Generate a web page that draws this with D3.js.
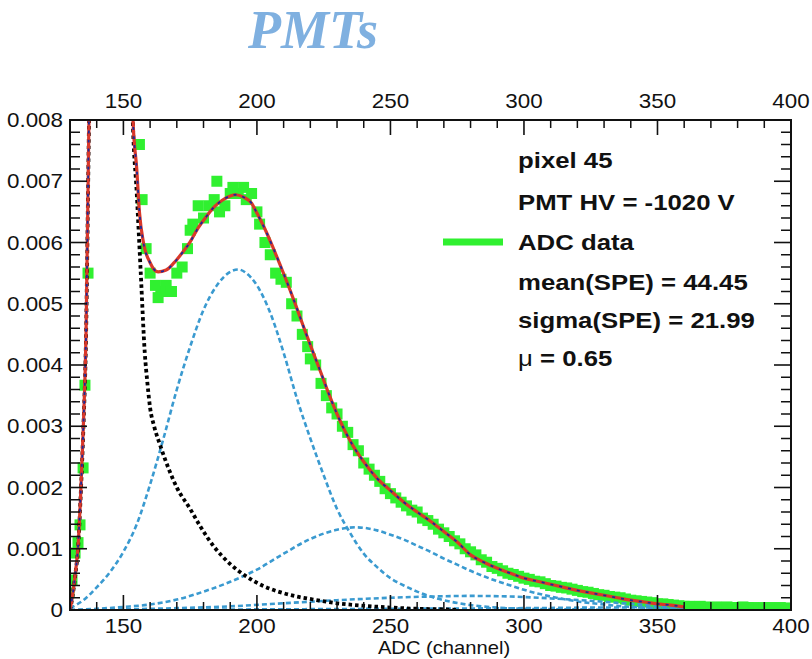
<!DOCTYPE html>
<html><head><meta charset="utf-8">
<script src="https://cdn.jsdelivr.net/npm/d3@7/dist/d3.min.js"></script>
<style>body{margin:0;background:#fff}svg{display:block}</style>
</head><body>
<svg id="chart" width="812" height="659"></svg>
<script>
// ---------- data ----------
const chartTitle = "PMTs";
const xTickValues = [150, 200, 250, 300, 350, 400];
const yTickValues = [0, 0.001, 0.002, 0.003, 0.004, 0.005, 0.006, 0.007, 0.008];
const yTickLabels = ["0", "0.001", "0.002", "0.003", "0.004", "0.005", "0.006", "0.007", "0.008"];
const xAxisTitle = "ADC (channel)";
const legendLines = ["pixel 45", "PMT HV = -1020 V", "ADC data", "mean(SPE) = 44.45", "sigma(SPE) = 21.99", "μ = 0.65"];

// ADC data (green squares)
const dataADC = [129.6,130.75,131.9,133,133.75,134.9,135.6,136.75,138,140,142,144,146,148,150,152,154,156,157,158.5,160,162,163,164,166,168,170,172,174,175,176,178,180,182,184,185,186,188,190,191,193,195,196,198,200,201,203,205,207,209,211,213,215,217,219,220,222,224,226,228,230,232,234,236,238,240,242,244,246,248,250,252,254,256,258,260,262,264,266,268,270,272,274,276,278,280,282,284,286,288,290,292,294,296,298,300,302,304,306,308,310,312,314,316,318,320,322,324,326,328,330,332,334,336,338,340,342,344,346,348,350,352,354,356,358,360,362,364,366,368,370,372,374,376,378,380,382,384,386,388,390,392,394,396,398,400];
const dataValue = [0.00028,0.00049,0.00093,0.0011,0.00139,0.00232,0.00367,0.0055,0.0092,0.015,0.0185,0.021,0.0215,0.0195,0.016,0.0115,0.0086,0.0076,0.0067,0.0059,0.0055,0.0053,0.0051,0.0052,0.0053,0.0052,0.0055,0.0056,0.0059,0.0062,0.0063,0.0066,0.0064,0.0066,0.0067,0.007,0.0065,0.0066,0.0068,0.0069,0.0068,0.0069,0.0067,0.0068,0.0065,0.0063,0.006,0.0058,0.0055,0.0054,0.00535,0.005,0.0048,0.0045,0.0043,0.0041,0.004,0.0037,0.0035,0.0033,0.0032,0.003,0.0029,0.0027,0.0026,0.0024,0.0023,0.0022,0.0021,0.00198,0.0019,0.00183,0.00176,0.0017,0.00163,0.0016,0.0015,0.00146,0.0014,0.00132,0.00126,0.0012,0.00113,0.00108,0.001,0.00095,0.0009,0.00082,0.00078,0.00071,0.00068,0.00064,0.0006,0.00058,0.00055,0.00052,0.0005,0.00047,0.00046,0.00043,0.0004,0.00039,0.00037,0.00036,0.00034,0.00032,0.0003,0.00029,0.00027,0.00025,0.00024,0.00022,0.00021,0.0002,0.00018,0.00016,0.00015,0.00014,0.00013,0.00012,0.0001,0.0001,0.00009,0.00008,0.00007,0.00006,0.00006,0.00005,0.00006,0.00005,0.00004,0.00005,0.00004,0.00005,0.00004,0.00004,0.00005,0.00004,0.00004,0.00003,0.00004,0.00004,0.00003,0.00004,0.00003,0.00003];

// total fit (red, with navy dashes)
const fitADC = [130,131,132,133,134,135,136,137,138,140,145,150,152,153.6,155,156,157.5,160,163,166,169,172,175,178,181,184,187,190,192,195,198,200,203,206,209,212,215,218,221,224,227,230,233,236,240,245,250,255,260,265,270,275,280,285,290,295,300,305,310,315,320,325,330,335,340,345,350,355,360];
const fitValue = [0,0.00025,0.0006,0.00103,0.0019,0.003,0.0045,0.0077,0.0105,0.016,0.022,0.016,0.011,0.008,0.0072,0.0065,0.006,0.00567,0.00552,0.00555,0.00567,0.00583,0.00601,0.00624,0.00642,0.00658,0.00669,0.00676,0.00678,0.00674,0.00664,0.00648,0.00622,0.00592,0.0056,0.00527,0.00492,0.00456,0.00421,0.00387,0.00352,0.0032,0.00292,0.00268,0.00242,0.00215,0.00195,0.00176,0.0016,0.00145,0.00128,0.00111,0.0009,0.00078,0.00068,0.0006,0.00052,0.00047,0.00042,0.00037,0.00032,0.00028,0.00024,0.0002,0.00016,0.00013,0.0001,0.00008,0.00005];

// pedestal (black dotted)
const pedADC = [130,131,132,133,134,135,136,137,138,140,145,150,152,153.5,155,156.5,158,159,160,161.5,163.7,167,170,175,179,184,190,196,202,208,215,220,230,240,250,260,270,275];
const pedValue = [0,0.00024,0.00058,0.001,0.00187,0.00296,0.00445,0.0076,0.0104,0.0159,0.0219,0.0159,0.011,0.008,0.0068,0.0055,0.0042,0.0037,0.0033,0.003,0.0027,0.0023,0.002,0.00165,0.00135,0.00103,0.00075,0.00055,0.0004,0.0003,0.00022,0.00018,0.00011,0.00007,0.00004,0.00002,0.00001,0];

// 1 p.e. component (blue dashed)
const pe1ADC = [130,135,140,145,150,155,160,165,170,175,180,185,190,193,196,200,205,210,215,220,225,230,235,240,245,250,255,260,265,270,280,290,300,320,340,360];
const pe1Value = [0.00003,0.00016,0.00037,0.00062,0.00095,0.0014,0.00205,0.0028,0.0036,0.0043,0.0049,0.0053,0.00552,0.00556,0.0055,0.0053,0.00485,0.0042,0.00345,0.0028,0.0022,0.00165,0.00125,0.00092,0.0007,0.00052,0.0004,0.0003,0.00022,0.00016,0.00008,0.00004,0.00002,0.00001,0,0];

// 2 p.e. component
const pe2ADC = [130,140,150,160,170,180,190,200,210,220,230,237,245,250,255,260,265,270,275,280,285,290,295,300,310,320,330,340,350,360];
const pe2Value = [0,0.00002,0.00005,0.00009,0.00017,0.0003,0.00046,0.00066,0.00092,0.00116,0.00131,0.00135,0.0013,0.00123,0.00115,0.00105,0.00095,0.00084,0.00074,0.00064,0.00055,0.00047,0.0004,0.00033,0.00022,0.00014,0.00009,0.00005,0.00003,0.00001];

// 3 p.e. component
const pe3ADC = [130,150,170,190,210,230,250,265,280,295,310,325,340,350,360];
const pe3Value = [0,0.00001,0.00003,0.00006,0.00011,0.00016,0.0002,0.00022,0.00023,0.00022,0.00019,0.00015,0.0001,0.00007,0.00005];

// 4 p.e. component
const pe4ADC = [130,200,250,300,330,360];
const pe4Value = [0,0.00001,0.00002,0.00003,0.00004,0.00004];

// ---------- drawing ----------
const svg = d3.select("#chart");
const pLeft = 70, pRight = 791, pTop = 120, pBottom = 610;
const x = d3.scaleLinear().domain([130, 400]).range([pLeft, pRight]);
const y = d3.scaleLinear().domain([0, 0.008]).range([pBottom, pTop]);
const SX = 1.12;
const sans = "'Liberation Sans', Arial, Helvetica, sans-serif";

function stext(g, px, py, str, anchor, size, weight) {
  return g.append("text")
    .attr("transform", `translate(${px},${py}) scale(${SX},1)`)
    .attr("text-anchor", anchor)
    .attr("font-family", sans)
    .attr("font-size", size)
    .attr("font-weight", weight || "normal")
    .attr("fill", "#111")
    .text(str);
}

// title
svg.append("text")
  .attr("x", 248).attr("y", 48)
  .attr("font-family", "'Liberation Serif', 'Times New Roman', serif")
  .attr("font-style", "italic").attr("font-weight", "bold")
  .attr("font-size", 54).attr("fill", "#7fb0e0")
  .text(chartTitle);

svg.append("defs").append("clipPath").attr("id", "plotclip")
  .append("rect").attr("x", pLeft).attr("y", pTop).attr("width", pRight - pLeft).attr("height", pBottom - pTop);

const plot = svg.append("g").attr("clip-path", "url(#plotclip)");

// data squares
const pts = dataADC.map((d, i) => [d, dataValue[i]]);
const sq = 11;
plot.append("g").selectAll("rect").data(pts).join("rect")
  .attr("x", d => x(d[0]) - sq / 2).attr("y", d => y(d[1]) - sq / 2)
  .attr("width", sq).attr("height", sq)
  .attr("fill", "#30f030");

const line = d3.line().x(d => x(d[0])).y(d => y(d[1])).curve(d3.curveMonotoneX);
function series(xs, vs) { return xs.map((d, i) => [d, vs[i]]); }

const blue = "#3a9ad0";
[[pe4ADC, pe4Value], [pe3ADC, pe3Value], [pe2ADC, pe2Value], [pe1ADC, pe1Value]].forEach(([a, v]) => {
  plot.append("path").datum(series(a, v)).attr("d", line)
    .attr("fill", "none").attr("stroke", blue).attr("stroke-width", 2.6)
    .attr("stroke-dasharray", "5,3");
});

plot.append("path").datum(series(pedADC, pedValue)).attr("d", line)
  .attr("fill", "none").attr("stroke", "#000").attr("stroke-width", 3.8)
  .attr("stroke-dasharray", "3.5,3");

plot.append("path").datum(series(fitADC, fitValue)).attr("d", line)
  .attr("fill", "none").attr("stroke", "#d9382a").attr("stroke-width", 3.2);
plot.append("path").datum(series(fitADC, fitValue)).attr("d", line)
  .attr("fill", "none").attr("stroke", "#1c2a9a").attr("stroke-width", 1.8)
  .attr("stroke-dasharray", "3,6");

// frame
const axes = svg.append("g").attr("stroke", "#111").attr("fill", "none");
axes.append("rect").attr("x", pLeft).attr("y", pTop).attr("width", pRight - pLeft).attr("height", pBottom - pTop)
  .attr("stroke-width", 2);

// x ticks (top and bottom), inward
const xMinor = d3.range(140, 400, 10).filter(v => xTickValues.indexOf(v) < 0);
xMinor.forEach(v => {
  axes.append("line").attr("x1", x(v)).attr("x2", x(v)).attr("y1", pBottom).attr("y2", pBottom - 8).attr("stroke-width", 1.5);
  axes.append("line").attr("x1", x(v)).attr("x2", x(v)).attr("y1", pTop).attr("y2", pTop + 8).attr("stroke-width", 1.5);
});
xTickValues.forEach(v => {
  axes.append("line").attr("x1", x(v)).attr("x2", x(v)).attr("y1", pBottom).attr("y2", pBottom - 15).attr("stroke-width", 1.6);
  axes.append("line").attr("x1", x(v)).attr("x2", x(v)).attr("y1", pTop).attr("y2", pTop + 15).attr("stroke-width", 1.6);
});
// y ticks (left and right), inward
const yMinor = d3.range(1, 40).filter(i => i % 5 !== 0).map(i => i * 0.0002);
yMinor.forEach(v => {
  axes.append("line").attr("x1", pLeft).attr("x2", pLeft + 10).attr("y1", y(v)).attr("y2", y(v)).attr("stroke-width", 1.5);
  axes.append("line").attr("x1", pRight).attr("x2", pRight - 10).attr("y1", y(v)).attr("y2", y(v)).attr("stroke-width", 1.5);
});
yTickValues.forEach(v => {
  axes.append("line").attr("x1", pLeft).attr("x2", pLeft + 17).attr("y1", y(v)).attr("y2", y(v)).attr("stroke-width", 1.6);
  axes.append("line").attr("x1", pRight).attr("x2", pRight - 17).attr("y1", y(v)).attr("y2", y(v)).attr("stroke-width", 1.6);
});

// tick labels
const labels = svg.append("g");
xTickValues.forEach(v => {
  stext(labels, x(v), 108, String(v), "middle", 20);
  stext(labels, x(v), 633, String(v), "middle", 20);
});
yTickValues.forEach((v, i) => {
  stext(labels, 63, y(v) + 7, yTickLabels[i], "end", 20);
});

// axis title
stext(labels, 444, 654, xAxisTitle, "middle", 18);

// legend / annotations
const leg = svg.append("g");
const legBase = [168, 210, 250, 290, 328, 366];
legendLines.forEach((s, i) => {
  if (s.startsWith("μ")) {
    const t = stext(leg, 518, legBase[i], "", "start", 23, "bold");
    t.append("tspan").attr("font-weight", "normal").text("μ");
    t.append("tspan").text(s.slice(1));
  } else {
    stext(leg, 518, legBase[i], s, "start", 23, "bold");
  }
});
leg.append("line").attr("x1", 443).attr("x2", 503).attr("y1", 242).attr("y2", 242)
  .attr("stroke", "#30f030").attr("stroke-width", 7);
</script>
</body></html>
